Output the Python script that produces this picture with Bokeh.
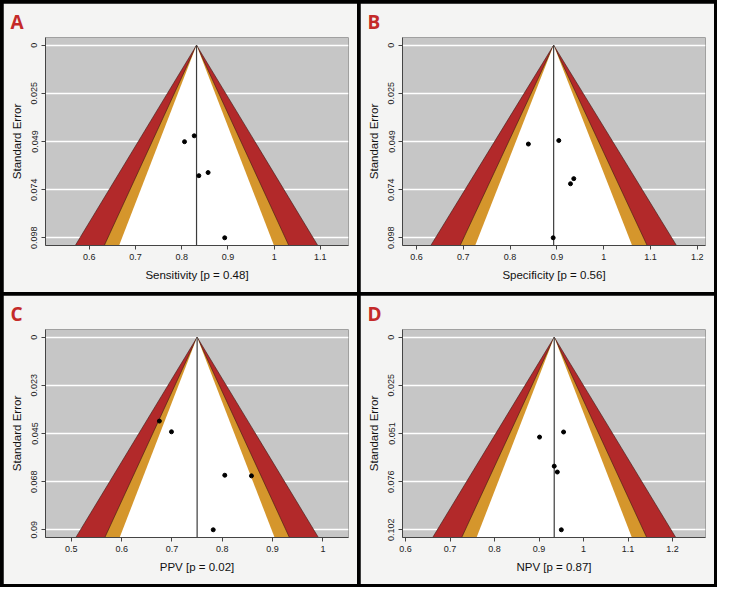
from bokeh.plotting import figure
from bokeh.layouts import gridplot
from bokeh.models import Range1d, FixedTicker, ColumnDataSource
from bokeh.embed import file_html
from bokeh.resources import INLINE

# ---------------- data ----------------
letters = ["A", "B", "C", "D"]
x_titles = ["Sensitivity [p = 0.48]", "Specificity [p = 0.56]",
            "PPV [p = 0.02]", "NPV [p = 0.87]"]
pooled = [0.832, 0.893, 0.750, 0.934]
se_max = [0.098, 0.098, 0.090, 0.102]

y_tick_labels = [
    ["0", "0.025", "0.049", "0.074", "0.098"],
    ["0", "0.025", "0.049", "0.074", "0.098"],
    ["0", "0.023", "0.045", "0.068", "0.09"],
    ["0", "0.025", "0.051", "0.076", "0.102"],
]
x_ticks = [
    [0.6, 0.7, 0.8, 0.9, 1.0, 1.1],
    [0.6, 0.7, 0.8, 0.9, 1.0, 1.1, 1.2],
    [0.5, 0.6, 0.7, 0.8, 0.9, 1.0],
    [0.6, 0.7, 0.8, 0.9, 1.0, 1.1, 1.2],
]
x_tick_labels = [
    ["0.6", "0.7", "0.8", "0.9", "1", "1.1"],
    ["0.6", "0.7", "0.8", "0.9", "1", "1.1", "1.2"],
    ["0.5", "0.6", "0.7", "0.8", "0.9", "1"],
    ["0.6", "0.7", "0.8", "0.9", "1", "1.1", "1.2"],
]

est_A = [0.806, 0.827, 0.837, 0.857, 0.893]
se_A = [0.0491, 0.0461, 0.0664, 0.0648, 0.0980]
est_B = [0.839, 0.904, 0.929, 0.936, 0.892]
se_B = [0.0503, 0.0485, 0.0705, 0.0679, 0.0980]
est_C = [0.675, 0.699, 0.805, 0.858, 0.782]
se_C = [0.0392, 0.0442, 0.0645, 0.0648, 0.0900]
est_D = [0.901, 0.955, 0.934, 0.941, 0.950]
se_D = [0.0529, 0.0502, 0.0683, 0.0714, 0.1020]
estimates = [est_A, est_B, est_C, est_D]
std_errors = [se_A, se_B, se_C, se_D]

# contour levels: 99%, 95%, 90%
z_levels = [2.576, 1.960, 1.645]
contour_colors = ["#b2292a", "#d5962c", "white"]

# ---------------- layout ----------------
x_ranges = [(0.505, 1.161), (0.570, 1.2175), (0.4486, 1.0509), (0.593, 1.274)]
W, H = 354, 289
FONT = "Liberation Sans"


def panel(i):
    lo, hi = x_ranges[i]
    smax = se_max[i]
    p = figure(width=W, height=H, output_backend="svg", toolbar_location=None,
               x_range=Range1d(lo, hi),
               y_range=Range1d(1.04 * smax, -0.04 * smax),
               min_border_left=42, min_border_right=9,
               min_border_top=32, min_border_bottom=47)
    p.background_fill_color = "#c6c6c6"
    p.border_fill_color = "#f4f4f3"
    p.outline_line_color = None

    # title letter
    p.title.text = letters[i]
    p.title.text_color = "#c42a29"
    p.title.text_font = "Open Sans"
    p.title.text_font_style = "bold"
    p.title.text_font_size = "19px"
    p.title.align = "left"
    p.title.offset = -35
    p.title.standoff = 6

    # grid
    p.xgrid.visible = False
    yt = [smax * k / 4 for k in range(5)]
    p.ygrid.ticker = FixedTicker(ticks=yt)
    p.ygrid.grid_line_color = "white"
    p.ygrid.grid_line_width = 1.3

    # funnel contours
    S = 1.3 * smax
    c = pooled[i]
    for z, col in zip(z_levels, contour_colors):
        p.patch([c - z * S, c, c + z * S], [S, 0, S], fill_color=col,
                line_color="#3a1a14" if col != "white" else None, line_width=0.6)
    p.segment(x0=[c], y0=[0], x1=[c], y1=[S], line_color="#3c3c3c", line_width=1.2)

    src = ColumnDataSource(dict(x=estimates[i], y=std_errors[i]))
    p.scatter("x", "y", source=src, size=4, color="black")

    # axes
    for ax in (p.xaxis[0], p.yaxis[0]):
        ax.axis_line_color = "#444444"
        ax.major_tick_line_color = "#444444"
        ax.major_tick_out = 4
        ax.major_tick_in = 0
        ax.minor_tick_line_color = None
        ax.major_label_text_font = FONT
        ax.major_label_text_font_size = "9px"
        ax.major_label_text_color = "#222222"
        ax.major_label_standoff = 4
        ax.axis_label_text_font = FONT
        ax.axis_label_text_font_size = "11.5px"
        ax.axis_label_text_font_style = "normal"
        ax.axis_label_text_color = "#111111"
        ax.axis_label_standoff = 6

    p.xaxis.ticker = FixedTicker(ticks=x_ticks[i])
    p.xaxis.major_label_overrides = {t: l for t, l in zip(x_ticks[i], x_tick_labels[i])}
    p.xaxis.axis_label = x_titles[i]

    p.yaxis.ticker = FixedTicker(ticks=yt)
    p.yaxis.major_label_overrides = {t: l for t, l in zip(yt, y_tick_labels[i])}
    p.yaxis.major_label_orientation = "vertical"
    p.yaxis.axis_label = "Standard Error"
    return p


figs = [panel(i) for i in range(4)]
grid = gridplot([[figs[0], figs[1]], [figs[2], figs[3]]], toolbar_location=None)
grid.spacing = 3
grid.styles = {"background-color": "black", "padding": "3px"}

open("out.html", "w").write(file_html(grid, INLINE))
